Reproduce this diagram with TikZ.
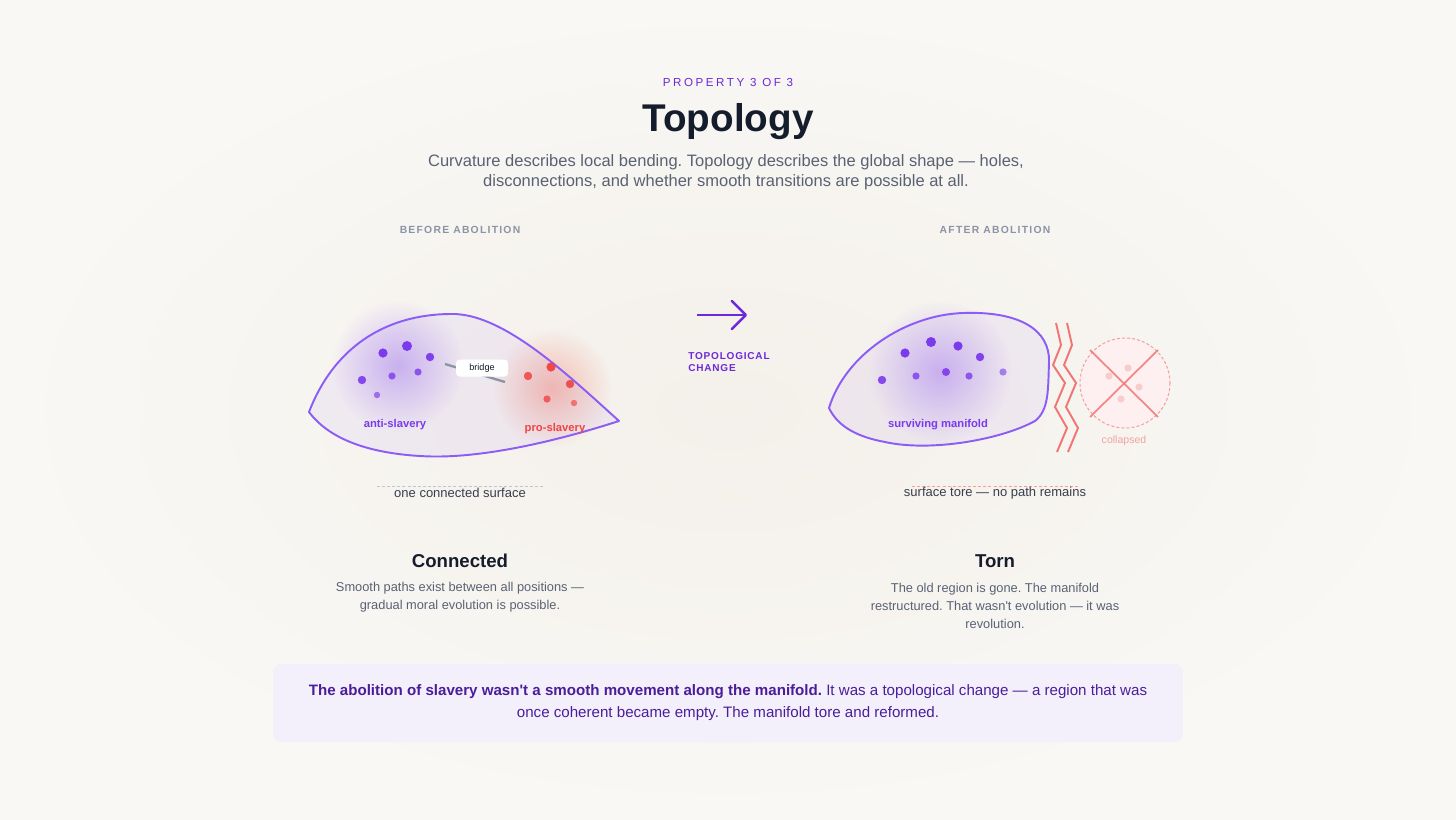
\documentclass[tikz,border=0pt]{standalone}
\usepackage{fontspec}
\setmainfont{Liberation Sans}
\usetikzlibrary{arrows.meta,positioning,fadings,shadings}
\frenchspacing

\definecolor{bgA}{HTML}{F9F8F5}
\definecolor{bgB}{HTML}{F4F0EA}
\definecolor{ink}{HTML}{151C2B}
\definecolor{slate}{HTML}{596273}
\definecolor{mute}{HTML}{8A94A5}
\definecolor{vio}{HTML}{6D28D9}
\definecolor{viol}{HTML}{7C3AED}
\definecolor{edge}{HTML}{8B5CF6}
\definecolor{rosso}{HTML}{EF4444}
\definecolor{tear}{HTML}{F27474}
\definecolor{pale}{HTML}{F0A3A0}
\definecolor{callbg}{HTML}{F3F0FC}
\definecolor{calltx}{HTML}{4B1D9A}

\tikzfading[name=glowfade, inner color=transparent!55, outer color=transparent!100]
\tikzfading[name=glowsoft, inner color=transparent!68, outer color=transparent!100]

\begin{document}
\begin{tikzpicture}[x=0.02cm,y=-0.02cm,
  kick/.style={font=\fontsize{6.6}{8}\selectfont\addfontfeatures{LetterSpace=22},text=vio},
  head/.style={font=\fontsize{22}{26}\selectfont\bfseries,text=ink},
  lede/.style={font=\fontsize{9.4}{11.3}\selectfont,text=slate,align=center},
  sect/.style={font=\fontsize{5.9}{7}\selectfont\bfseries\addfontfeatures{LetterSpace=12},text=mute},
  lab/.style={font=\fontsize{6.4}{8}\selectfont\bfseries},
  note/.style={font=\fontsize{7.4}{9}\selectfont,text=ink!85},
  ttl/.style={font=\fontsize{10.6}{13}\selectfont\bfseries,text=ink},
  desc/.style={font=\fontsize{7.3}{10.2}\selectfont,text=slate,align=center},
  glow/.style={path fading=glowfade},
  glow2/.style={path fading=glowsoft},
  rule/.style={dashed,dash pattern=on 1.7pt off 1.2pt,line width=.5pt}]
  % background
  \shade[inner color=bgB,outer color=bgA] (0,0) rectangle (1456,819);
  \useasboundingbox (0,0) rectangle (1456,819);

  \node[kick] (kicker) at (728,83) {PROPERTY 3 OF 3};
  \node[head] (title) at (728,122) {Topology};
  \node[lede] (lede) at (726,172) {Curvature describes local bending. Topology describes the global shape — holes,\\disconnections, and whether smooth transitions are possible at all.};
  \node[sect] (before) at (460,230) {BEFORE ABOLITION};
  \node[sect] (after) at (995,230) {AFTER ABOLITION};

  % connected manifold
  \fill[edge,opacity=.07] (309,412) .. controls (336,342) and (392,313) .. (455,314) .. controls (505,316) and (565,372) .. (619,421) .. controls (560,440) and (480,460) .. (420,456) .. controls (370,453) and (330,440) .. (309,412) -- cycle;
  \fill[viol!75,glow] (398,366) circle (66);
  \fill[rosso!85!orange,glow2] (552,388) circle (60);
  \draw[edge,line width=1.1pt,line join=round] (309,412) .. controls (336,342) and (392,313) .. (455,314) .. controls (505,316) and (565,372) .. (619,421) .. controls (560,440) and (480,460) .. (420,456) .. controls (370,453) and (330,440) .. (309,412) -- cycle;
  \foreach \x/\y/\r/\o in {383/353/4.6/1, 407/346/5/1, 430/357/4.2/.95, 362/380/4.2/.9, 392/376/3.6/.8, 418/372/3.6/.8, 377/395/3.2/.65}
    \fill[viol,opacity=\o] (\x,\y) circle (\r);
  \foreach \x/\y/\r/\o in {528/376/4.2/.85, 551/367/4.6/.95, 570/384/4.2/.9, 547/399/3.6/.8, 574/403/3.2/.65}
    \fill[rosso,opacity=\o] (\x,\y) circle (\r);
  \coordinate (brA) at (445,364);
  \coordinate (brB) at (505,382);
  \draw[mute,line width=1.3pt] (brA) -- (brB);
  \node[fill=white,rounded corners=2pt,minimum width=1.04cm,minimum height=.34cm,inner sep=0pt,
        font=\fontsize{5.2}{6}\selectfont,text=ink] (bridge) at (482,368) {bridge};
  \node[lab,text=viol] (anti) at (395,425) {anti-slavery};
  \node[lab,text=rosso] (pro) at (555,429) {pro-slavery};
  \draw[rule,mute!55] (377,486) -- (543,486);
  \node[note] (onesurf) at (460,493) {one connected surface};

  % the change
  \coordinate (arrS) at (697,315);
  \coordinate (arrE) at (747,315);
  \draw[vio,line width=1.4pt,-{Straight Barb[length=8pt,width=16pt,round]}] (arrS) -- (arrE);
  \node[font=\fontsize{5.7}{6.9}\selectfont\bfseries\addfontfeatures{LetterSpace=8},text=vio,
        align=left,anchor=north west,inner sep=0pt] (change) at (688,352) {TOPOLOGICAL\\CHANGE};

  % torn manifold
  \fill[edge,opacity=.07] (829,408) .. controls (845,355) and (905,315) .. (963,313) .. controls (1020,311) and (1050,330) .. (1049,362) .. controls (1048,390) and (1049,410) .. (1035,421) .. controls (1000,440) and (930,452) .. (885,442) .. controls (858,437) and (838,427) .. (829,408) -- cycle;
  \fill[viol!75,glow] (940,372) circle (72);
  \draw[edge,line width=1.1pt,line join=round] (829,408) .. controls (845,355) and (905,315) .. (963,313) .. controls (1020,311) and (1050,330) .. (1049,362) .. controls (1048,390) and (1049,410) .. (1035,421) .. controls (1000,440) and (930,452) .. (885,442) .. controls (858,437) and (838,427) .. (829,408) -- cycle;
  \foreach \x/\y/\r/\o in {905/353/4.6/1, 931/342/5/1, 958/346/4.6/1, 980/357/4.2/.95, 882/380/4.2/.9, 916/376/3.6/.8, 946/372/4/.9, 969/376/3.6/.8, 1003/372/3.6/.6}
    \fill[viol,opacity=\o] (\x,\y) circle (\r);
  \node[lab,text=viol] (surv) at (938,425) {surviving manifold};
  \foreach \d in {0,11}
    \draw[tear,line width=1.1pt,line join=miter] plot coordinates {(1056+\d,323) (1061+\d,345) (1053+\d,365) (1065+\d,383) (1055+\d,407) (1067+\d,428) (1057+\d,452)};
  \draw[pale,rule,line width=.6pt,fill=rosso!8] (1125,383) circle (45);
  \foreach \x/\y in {1109/376, 1128/368, 1139/387, 1121/399}
    \fill[pale,opacity=.45] (\x,\y) circle (3.6);
  \draw[tear,line width=1pt,opacity=.85] (1090,350) -- (1158,417);
  \draw[tear,line width=1pt,opacity=.85] (1158,350) -- (1090,417);
  \node[font=\fontsize{6}{7}\selectfont,text=pale] (coll) at (1124,441) {collapsed};
  \draw[rule,tear!70] (912,486) -- (1078,486);
  \node[note] (tore) at (995,493) {surface tore — no path remains};

  % captions
  \node[ttl] (conn) at (460,561) {Connected};
  \node[desc] (conndesc) at (460,597) {Smooth paths exist between all positions —\\gradual moral evolution is possible.};
  \node[ttl] (torn) at (995,561) {Torn};
  \node[desc] (torndesc) at (995,606) {The old region is gone. The manifold\\restructured. That wasn\textquotesingle t evolution — it was\\revolution.};

  \node[fill=callbg,rounded corners=4.5pt,minimum width=18.2cm,minimum height=1.56cm,align=center,
        font=\fontsize{8.6}{12.5}\selectfont,text=calltx] (callout) at (728,703)
    {\textbf{The abolition of slavery wasn\textquotesingle t a smooth movement along the manifold.} It was a topological change — a region that was\\once coherent became empty. The manifold tore and reformed.};
\end{tikzpicture}
\end{document}
